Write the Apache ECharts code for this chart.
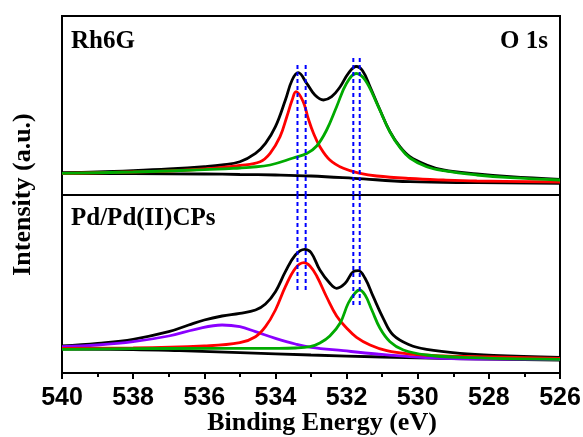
<!DOCTYPE html>
<html>
<head>
<meta charset="utf-8">
<script src="https://cdn.jsdelivr.net/npm/echarts@6/dist/echarts.min.js"></script>
<style>
    html, body { margin: 0; padding: 0; background: #fff; }
    #chart { width: 583px; height: 437px; }
</style>
</head>
<body>
<div id="chart"></div>
<script>
'use strict';

// binding energy ticks (eV), axis runs 540 -> 526
var energyMin = 526;
var energyMax = 540;

// Rh6G panel, [binding energy, intensity a.u.]
var rhEnvelope = [[540, 22.3], [539, 23], [538, 24.3], [537, 26], [536, 28.3], [535.5, 30], [535, 33.3],
    [534.56, 41.7], [534.28, 51.7], [534, 68.3], [533.72, 95], [533.53, 115], [533.36, 122.3], [533.12, 111.7],
    [532.89, 100], [532.65, 95], [532.42, 98.3], [532.18, 108.3], [531.95, 121.7], [531.73, 128.5],
    [531.55, 124.3], [531.34, 108.3], [531.06, 85], [530.78, 63.3], [530.5, 48.3], [530.22, 38.3],
    [529.75, 30], [529.28, 25], [528.34, 21], [527.4, 18.3], [526, 15.7]];
var rhRed = [[540, 21.5], [538, 23], [537, 24], [536, 26], [535, 29.5], [534.43, 33.3], [534.15, 41.7],
    [533.87, 58.3], [533.68, 78.3], [533.53, 95], [533.42, 103.3], [533.22, 93.3], [533.08, 76.7],
    [532.93, 61.7], [532.75, 48.3], [532.47, 35], [532.09, 26.7], [531.62, 21.7], [531.15, 19],
    [530.22, 16.5], [529.28, 15], [528.34, 14], [526, 13]];
var rhGreen = [[540, 21.7], [538, 23], [536, 25.3], [535, 27], [534.71, 27.7], [534.15, 30], [533.5, 37],
    [533.12, 41.5], [532.84, 49], [532.56, 65], [532.28, 88.3], [532, 111.7], [531.73, 121.5], [531.48, 115],
    [531.15, 91.7], [530.78, 63], [530.5, 47.5], [530.22, 37], [529.75, 28.3], [529.28, 24.3], [528.34, 20],
    [527.4, 17.3], [526, 15]];
var rhBackground = [[540, 21.5], [538, 21.3], [536, 21], [535, 20.5], [534, 20], [533, 19], [531.8, 16.7],
    [530.22, 13.3], [528.34, 12.3], [526, 11.7]];

// Pd/Pd(II)CPs panel
var pdEnvelope = [[540, 27], [539, 29.7], [538, 33.7], [537, 41.3], [536.44, 48], [536, 53], [535.5, 57],
    [535, 59.7], [534.56, 63], [534.28, 69], [534, 81.3], [533.72, 101.3], [533.44, 118], [533.18, 123.7],
    [533, 120.5], [532.75, 103], [532.47, 89.7], [532.28, 84.7], [532.04, 89.7], [531.81, 101.3],
    [531.67, 102.3], [531.48, 94.7], [531.25, 76.3], [530.97, 54.7], [530.69, 38], [530.22, 28],
    [529.75, 23.7], [528.81, 19.7], [527.87, 17.7], [526, 15.7]];
var pdRed = [[540, 24.7], [538, 25], [536, 27], [535, 30.3], [534.56, 36.3], [534.28, 46.3], [534, 63],
    [533.72, 86.3], [533.44, 104.7], [533.2, 110.3], [533.03, 107], [532.84, 97], [532.56, 76], [532.28, 57],
    [532, 45], [531.72, 35.7], [531.34, 28], [530.87, 22.3], [530.22, 19], [529.28, 17], [528.34, 16.3],
    [526, 14.7]];
var pdGreen = [[540, 23.7], [537, 24.5], [534, 24.7], [533.44, 25], [533.03, 26.3], [532.75, 30],
    [532.47, 37], [532.18, 50], [531.95, 70], [531.76, 80], [531.64, 83], [531.48, 78], [531.29, 63],
    [531.06, 44.7], [530.78, 31.3], [530.4, 23], [529.75, 18], [528.81, 15.7], [526, 13.7]];
var pdPurple = [[540, 26.3], [539, 28], [538, 31.3], [537, 37], [536.25, 43.7], [535.5, 48], [535, 46.3],
    [534.56, 41.3], [534, 34.7], [533.44, 29], [533, 25.7], [532.09, 22.3], [531.15, 19], [530.22, 16.3],
    [529.28, 14.7], [528.34, 14], [526, 13.7]];
var pdBackground = [[540, 24], [538, 23.5], [536.7, 22.3], [535, 20.3], [533, 18], [531, 16], [529, 14.5],
    [526, 13]];

// blue dashed guide lines: position (eV), top in Rh6G panel, bottom in Pd panel
var guideEnergy = [533.38, 533.15, 531.81, 531.63];
var guideTop = [132, 132, 140, 140];
var guideBottom = [83, 83, 68, 68];

var serifFont = '"Liberation Serif", "Times New Roman", serif';
var sansFont = '"Liberation Sans", Arial, sans-serif';

function curve(data, color, panel) {
    return {
        type: 'line',
        xAxisIndex: panel,
        yAxisIndex: panel,
        data: data,
        smooth: 0.4,
        symbol: 'none',
        silent: true,
        lineStyle: { color: color, width: 2.8 }
    };
}

function guide(x, y0, y1, panel) {
    return {
        type: 'line',
        xAxisIndex: panel,
        yAxisIndex: panel,
        data: [[x, y0], [x, y1]],
        symbol: 'none',
        silent: true,
        clip: false,
        lineStyle: { color: '#0000ff', width: 2, type: [4, 3] }
    };
}

var series = [
    curve(rhBackground, '#000000', 0),
    curve(rhEnvelope, '#000000', 0),
    curve(rhRed, '#ff0000', 0),
    curve(rhGreen, '#00aa00', 0),
    curve(pdBackground, '#000000', 1),
    curve(pdEnvelope, '#000000', 1),
    curve(pdPurple, '#8a00ff', 1),
    curve(pdRed, '#ff0000', 1),
    curve(pdGreen, '#00aa00', 1)
];
for (var i = 0; i < guideEnergy.length; i++) {
    series.push(guide(guideEnergy[i], 0, guideTop[i], 0));
    series.push(guide(guideEnergy[i], guideBottom[i], 178, 1));
}

var hiddenX = {
    type: 'value', min: energyMin, max: energyMax, inverse: true,
    axisLine: { show: false }, axisTick: { show: false }, axisLabel: { show: false },
    splitLine: { show: false }
};

var chart = echarts.init(document.getElementById('chart'));
chart.setOption({
    animation: false,
    backgroundColor: '#ffffff',
    grid: [
        { left: 62, right: 23, top: 16, height: 179, show: true, borderColor: '#000', borderWidth: 2, outerBoundsMode: 'none' },
        { left: 62, right: 23, top: 195, height: 178, show: true, borderColor: '#000', borderWidth: 2, outerBoundsMode: 'none' },
        { left: 62, right: 23, top: 16, height: 357, outerBoundsMode: 'none' }
    ],
    xAxis: [
        Object.assign({ gridIndex: 0 }, hiddenX),
        {
            gridIndex: 1,
            type: 'value',
            min: energyMin,
            max: energyMax,
            interval: 2,
            inverse: true,
            axisLine: { show: true, lineStyle: { color: '#000', width: 2 } },
            axisTick: { show: true, inside: false, length: 6, lineStyle: { color: '#000', width: 2 } },
            minorTick: { show: true, splitNumber: 2, length: 4, lineStyle: { color: '#000', width: 2 } },
            axisLabel: { margin: 13, color: '#000', fontSize: 25, fontWeight: 'bold', fontFamily: sansFont },
            splitLine: { show: false },
            name: 'Binding Energy (eV)',
            nameLocation: 'middle',
            nameGap: 37,
            nameMoveOverlap: false,
            nameTextStyle: {
                color: '#000', fontSize: 26, fontWeight: 'bold', fontFamily: serifFont,
                padding: [0, 0, 0, 22]
            }
        },
        Object.assign({ gridIndex: 2 }, hiddenX)
    ],
    yAxis: [
        { gridIndex: 0, type: 'value', min: 0, max: 179, show: false },
        { gridIndex: 1, type: 'value', min: 0, max: 178, show: false },
        {
            gridIndex: 2,
            type: 'value',
            min: 0,
            max: 1,
            axisLine: { show: false }, axisTick: { show: false }, axisLabel: { show: false },
            splitLine: { show: false },
            name: 'Intensity (a.u.)',
            nameLocation: 'middle',
            nameGap: 26,
            nameTextStyle: { color: '#000', fontSize: 26, fontWeight: 'bold', fontFamily: serifFont }
        }
    ],
    graphic: [
        { type: 'text', left: 71, top: 29, style: { text: 'Rh6G', fill: '#000', font: 'bold 25px ' + serifFont } },
        { type: 'text', right: 35, top: 29, style: { text: 'O 1s', fill: '#000', font: 'bold 25px ' + serifFont } },
        { type: 'text', left: 71, top: 206, style: { text: 'Pd/Pd(II)CPs', fill: '#000', font: 'bold 25px ' + serifFont } }
    ],
    series: series
});
</script>
</body>
</html>
